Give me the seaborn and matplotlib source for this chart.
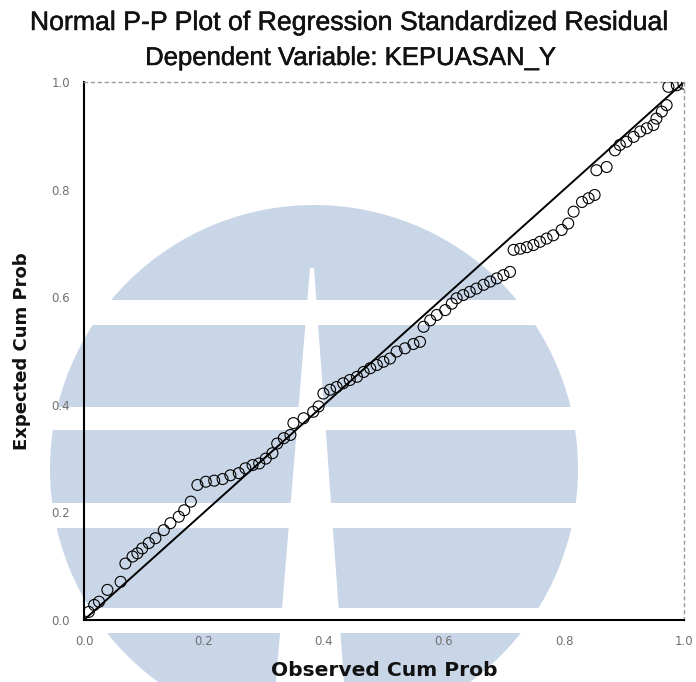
import matplotlib
matplotlib.use("Agg")
import matplotlib.pyplot as plt
import matplotlib.patheffects as pe
import seaborn as sns
import numpy as np
import pandas as pd
from matplotlib.patches import Circle, Rectangle, Polygon

# ---------------- data ----------------
observed_cum_prob = [
    0.008, 0.017, 0.025, 0.039, 0.061,
    0.069, 0.081, 0.089, 0.097, 0.108, 0.119, 0.133, 0.144, 0.158, 0.167, 0.178,
    0.189, 0.203, 0.217, 0.231, 0.244, 0.258, 0.269, 0.281, 0.292, 0.303, 0.314,
    0.322, 0.333, 0.344,
    0.349, 0.366, 0.382, 0.391,
    0.399, 0.410, 0.421, 0.432, 0.443, 0.455, 0.466, 0.477, 0.488, 0.499, 0.510,
    0.521, 0.535, 0.549, 0.560,
    0.566, 0.577, 0.588, 0.602, 0.613,
    0.621, 0.632, 0.643, 0.654, 0.666, 0.677, 0.688, 0.699, 0.710,
    0.716, 0.727, 0.738, 0.749, 0.760, 0.771, 0.782,
    0.796, 0.807, 0.816, 0.830, 0.841, 0.851,
    0.854, 0.871, 0.885, 0.893, 0.904, 0.916, 0.927, 0.938, 0.949,
    0.954, 0.963, 0.971, 0.974, 0.988, 0.999,
]
expected_cum_prob = [
    0.015, 0.028, 0.034, 0.056, 0.071,
    0.105, 0.118, 0.124, 0.133, 0.143, 0.152, 0.167, 0.180, 0.192, 0.204, 0.220,
    0.251, 0.257, 0.259, 0.262, 0.269, 0.273, 0.282, 0.288, 0.291, 0.300, 0.310,
    0.328, 0.338, 0.344,
    0.366, 0.375, 0.387, 0.397,
    0.421, 0.428, 0.433, 0.440, 0.446, 0.452, 0.461, 0.468, 0.474, 0.480, 0.486,
    0.499, 0.505, 0.513, 0.517,
    0.545, 0.557, 0.567, 0.576, 0.588,
    0.598, 0.604, 0.610, 0.616, 0.623, 0.629, 0.635, 0.641, 0.647,
    0.688, 0.690, 0.693, 0.697, 0.703, 0.709, 0.715,
    0.725, 0.737, 0.759, 0.777, 0.784, 0.790,
    0.836, 0.842, 0.873, 0.883, 0.889, 0.898, 0.908, 0.914, 0.920,
    0.932, 0.945, 0.957, 0.991, 0.994, 0.997,
]
reference_line = [0.0, 1.0]
tick_values = [0.0, 0.2, 0.4, 0.6, 0.8, 1.0]
tick_labels = ["0.0", "0.2", "0.4", "0.6", "0.8", "1.0"]

title_line1 = "Normal P-P Plot of Regression Standardized Residual"
title_line2 = "Dependent Variable: KEPUASAN_Y"
x_label = "Observed Cum Prob"
y_label = "Expected Cum Prob"

df = pd.DataFrame({"observed": observed_cum_prob, "expected": expected_cum_prob})

# ---------------- figure ----------------
sns.set_theme(style="white")
plt.rcParams["font.family"] = ["DejaVu Sans"]

W, H = 696, 682
fig = plt.figure(figsize=(W / 100, H / 100), dpi=100)

# background watermark (decoration)
bg = fig.add_axes([0, 0, 1, 1], zorder=0)
bg.set_xlim(0, W)
bg.set_ylim(H, 0)
bg.axis("off")
wm_blue = "#c9d6e7"
bg.add_patch(Circle((314, 469), 264, color=wm_blue, lw=0))
for y0, y1 in [(300, 325), (407, 430), (503, 528), (608, 633)]:
    bg.add_patch(Rectangle((0, y0), W, y1 - y0, color="white", lw=0))
bg.add_patch(Polygon([(310, 268), (314, 268), (344, 682), (276, 682)],
                     closed=True, color="white", lw=0))

# main axes
ax = fig.add_axes([84 / W, 1 - 620 / H, 600 / W, 538 / H], zorder=1)
ax.set_facecolor("none")

ax.plot(reference_line, reference_line, color="black", lw=1.4, zorder=2)
sns.scatterplot(data=df, x="observed", y="expected", ax=ax,
                marker="o", s=62, facecolors="none", edgecolor="black",
                linewidth=0.8, zorder=3)

ax.set_xlim(0, 1)
ax.set_ylim(0, 1)
ax.set_xticks(tick_values)
ax.set_xticklabels(tick_labels)
ax.set_yticks(tick_values)
ax.set_yticklabels(tick_labels)
ax.tick_params(axis="both", which="major", direction="out", length=6,
               width=1.0, color="black", labelsize=8.5, labelcolor="#707070")
ax.tick_params(axis="x", pad=5)
ax.tick_params(axis="y", pad=3, length=7)

for side in ["left", "bottom"]:
    ax.spines[side].set_color("black")
    ax.spines[side].set_linewidth(1.5)
for side in ["top", "right"]:
    ax.spines[side].set_color("#9a9a9a")
    ax.spines[side].set_linewidth(1.0)
    ax.spines[side].set_linestyle((0, (2, 3)))

ax.set_xlabel("")
ax.set_ylabel("")

fig.text(384 / W, 1 - 670 / H, x_label, ha="center", va="center",
         fontsize=14.6, fontweight="bold", color="#111111")
fig.text(22 / W, 1 - 351 / H, y_label, ha="center", va="center",
         rotation=90, fontsize=13, fontweight="bold", color="#111111")

thick = [pe.withStroke(linewidth=0.35, foreground="#111111")]
fig.text(0.5, 1 - 23 / H, title_line1, ha="center", va="center",
         fontsize=19.2, family=["Liberation Sans"], color="#111111",
         path_effects=thick)
fig.text(351 / W, 1 - 58 / H, title_line2, ha="center", va="center",
         fontsize=18.5, family=["Liberation Sans"], color="#111111",
         path_effects=thick)

fig.savefig("out.png", dpi=100)
